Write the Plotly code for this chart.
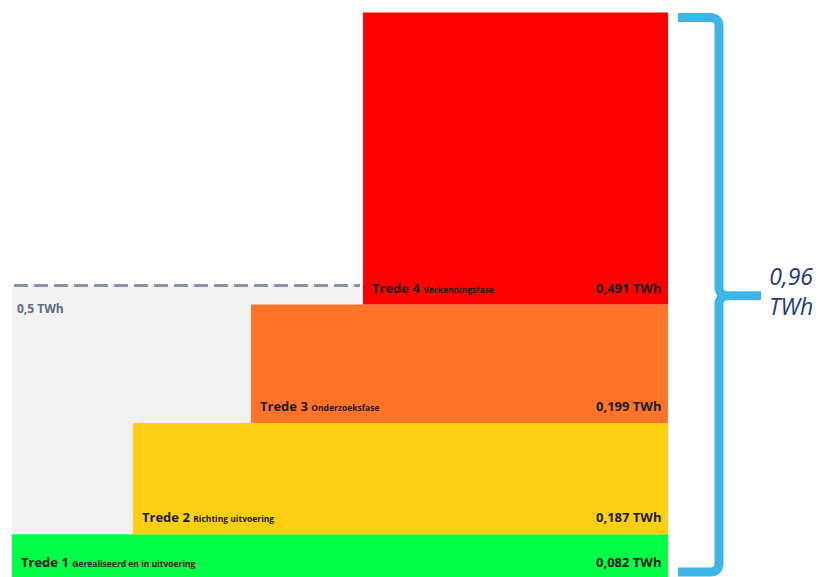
import plotly.graph_objects as go

# ---- data ----
steps = ["Trede 1", "Trede 2", "Trede 3", "Trede 4"]
phases = ["Gerealiseerd en in uitvoering", "Richting uitvoering", "Onderzoeksfase", "Verkenningsfase"]
values = [0.082, 0.187, 0.199, 0.491]          # TWh
target = 0.5                                   # TWh (dashed reference)
colors = ["#02FF48", "#FDCF10", "#FF7428", "#FF0000"]

# ---- layout helpers (x axis in screen-like units) ----
W, H = 821, 577
x_start = [12, 133, 251, 363]
x_end = 668
grey_x = (12, 363)

total = sum(values)
bases = []
acc = 0.0
for v in values:
    bases.append(acc)
    acc += v

px_per_twh = 595.0
zero_px = 583.0
y_min = (zero_px - H) / px_per_twh
y_max = zero_px / px_per_twh
k = (y_max - y_min) / H  # TWh per pixel

fmt = lambda v, d: f"{v:.{d}f}".replace(".", ",")

fig = go.Figure()

# grey background block for 0.5 TWh
fig.add_trace(go.Bar(
    x=[(grey_x[0] + grey_x[1]) / 2], y=[target], base=[0], width=[grey_x[1] - grey_x[0]],
    marker=dict(color="#F2F2F2", line=dict(width=0)), hoverinfo="skip", showlegend=False))

for i in range(len(values)):
    fig.add_trace(go.Bar(
        x=[(x_start[i] + x_end) / 2], y=[values[i]], base=[bases[i]],
        width=[x_end - x_start[i]], name=steps[i],
        marker=dict(color=colors[i], line=dict(width=0)), showlegend=False))

# dashed 0.5 TWh line
fig.add_trace(go.Scatter(
    x=[grey_x[0] + 2, grey_x[1] - 3], y=[target, target], mode="lines",
    line=dict(color="#8A93A8", width=3, dash="14px,6px"), hoverinfo="skip", showlegend=False))

annotations = []
font_main = "Open Sans, Liberation Sans, sans-serif"
for i in range(len(values)):
    ya = max(bases[i], y_min)
    ys = 6 if bases[i] >= y_min else 4
    annotations.append(dict(
        x=x_start[i] + 7, y=ya, xref="x", yref="y", xanchor="left", yanchor="bottom",
        yshift=ys, showarrow=False,
        text=f"<b>{steps[i]}</b> <span style='font-size:8.5px'><b>{phases[i]}</b></span>",
        font=dict(family=font_main, size=13, color="#1A1A1A")))
    annotations.append(dict(
        x=x_end - 5, y=ya, xref="x", yref="y", xanchor="right", yanchor="bottom",
        yshift=ys, showarrow=False, text=f"<b>{fmt(values[i], 3)} TWh</b>",
        font=dict(family=font_main, size=13, color="#1A1A1A")))

annotations.append(dict(
    x=grey_x[0] + 3, y=target, xref="x", yref="y", xanchor="left", yanchor="top",
    yshift=-12, showarrow=False, text="<b>0,5 TWh</b>",
    font=dict(family=font_main, size=12, color="#5B6A86")))

# brace
top = total - 5 * k
bot = y_min + 5 * k
mid = total / 2 + 2 * k
xl, xv, xt = 678, 719, 761
r = 9
path = (f"M {xl},{top} L {xv - r},{top} Q {xv},{top} {xv},{top - r * k} "
        f"L {xv},{mid + r * k} Q {xv},{mid} {xv + r},{mid} L {xt},{mid} "
        f"M {xv + r},{mid} Q {xv},{mid} {xv},{mid - r * k} "
        f"L {xv},{bot + r * k} Q {xv},{bot} {xv - r},{bot} L {xl},{bot}")
fig.add_shape(type="path", path=path, xref="x", yref="y",
              line=dict(color="#3DB5E6", width=9))

annotations.append(dict(
    x=791, y=mid, xref="x", yref="y", xanchor="center", yanchor="middle",
    yshift=5, showarrow=False, text=f"<i>{fmt(total, 2)}<br>TWh</i>",
    font=dict(family=font_main, size=23, color="#1F3A78")))

fig.update_layout(
    width=W, height=H, margin=dict(l=0, r=0, t=0, b=0),
    paper_bgcolor="white", plot_bgcolor="white", barmode="overlay",
    xaxis=dict(range=[0, W], visible=False, fixedrange=True),
    yaxis=dict(range=[y_min, y_max], visible=False, fixedrange=True),
    annotations=annotations,
)

fig.write_html("out.html")
